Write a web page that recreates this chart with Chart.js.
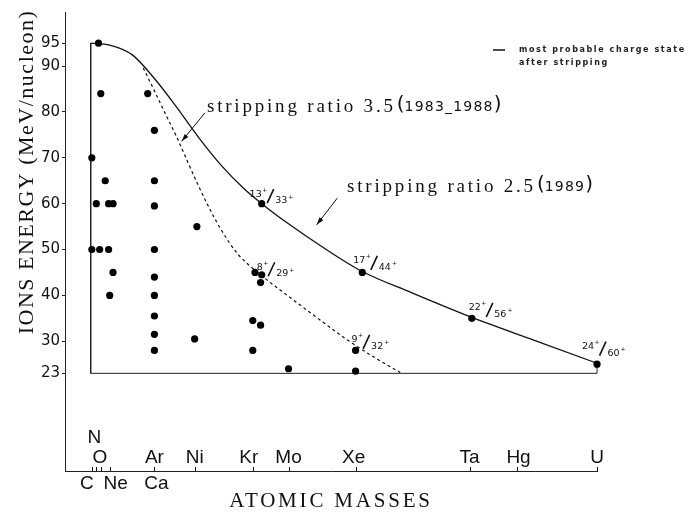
<!DOCTYPE html>
<html>
<head>
<meta charset="utf-8">
<script src="https://cdn.jsdelivr.net/npm/chart.js@4.4.1/dist/chart.umd.min.js"></script>
<style>
html,body{margin:0;padding:0;background:#fff}
</style>
</head>
<body>
<canvas id="chart" width="695" height="512"></canvas>
<script>

// beam energies (atomic mass, MeV/nucleon)
const ptMass=[15,16,37,40,12,18,14,19.5,21.5,40,40,59,12,15.5,19.5,40,21.5,20,40,40,40,40,40,58,88,85,88,87.5,84,87.5,84,100,133,130,130,182,238]
const ptEnergy=[95,84,84,76,70,65,60,60,60,65,59.5,55,50,50,50,50,45,40,44,40,35.5,31.5,28,30.5,60,45,44.5,42.8,34.5,33.5,28,24,45,28,23.5,35,25]

// stripping ratio 2.5 (solid) and 3.5 (dashed) curves
const solidMass=[11.5,20,30,40,50,60,70,80,88,100,115,133,155,182,210,238]
const solidEnergy=[95,94.6,92.5,87.3,81,74.3,68.3,63.3,60,55.6,50.6,45.2,40.6,35.2,30.2,25.2]
const dashMass=[35,40,45,50,55,60,65,70,77,88,100,112,126,140,150]
const dashEnergy=[89.6,84.6,79.5,74.5,69,63.6,58.6,54.2,49.2,44.3,39.8,35.4,30.4,26,23.2]

// inner frame
const frameMass=[11.5,11.5,238,238]
const frameEnergy=[95,23,23,25]

const yTicks=[23,30,40,50,60,70,80,90,95]
const elNames=['C','N','O','Ne','Ar','Ca','Ni','Kr','Mo','Xe','Ta','Hg','U']
const elMass=[12,14,16,20,40,40,58,84,100,130,181,202,238]

const chargeMass=[88,88,133,130,182,238]
const chargeEnergy=[60,44.5,45,28,35,25]
const chargeFrom=['13','8','17','9','22','24']
const chargeTo=['33','29','44','32','56','60']

// label placement (px)
const elRow=[2,0,1,2,1,2,1,1,1,1,1,1,1]
const elShift=[-5,-2,-1,6,0,2,0,-4,0,-2,0,2,0]
const chargeDx=[0,1,3,2,9,-3]
const chargeDy=[-7,-5,-9,-8,-8,-15]

const xy=(xs,ys)=>xs.map((v,i)=>({x:v,y:ys[i]}))

function arrow(ctx,x1,y1,x2,y2){
ctx.beginPath()
ctx.moveTo(x1,y1)
ctx.lineTo(x2,y2)
ctx.stroke()
const a=Math.atan2(y2-y1,x2-x1)
ctx.beginPath()
ctx.moveTo(x2,y2)
ctx.lineTo(x2-8*Math.cos(a-0.3),y2-8*Math.sin(a-0.3))
ctx.lineTo(x2-8*Math.cos(a+0.3),y2-8*Math.sin(a+0.3))
ctx.closePath()
ctx.fill()
}

function annot(ctx,px,py,main,years){
ctx.textAlign='left'
ctx.font='19px "Liberation Serif"'
ctx.letterSpacing='2.8px'
ctx.fillText(main,px,py)
let cx=px+ctx.measureText(main).width+1
ctx.letterSpacing='0px'
ctx.font='20px "DejaVu Sans"'
ctx.fillText('(',cx,py-2)
cx+=ctx.measureText('(').width
ctx.font='14px "DejaVu Sans"'
ctx.letterSpacing='1.2px'
ctx.fillText(years,cx,py-1)
cx+=ctx.measureText(years).width
ctx.letterSpacing='0px'
ctx.font='20px "DejaVu Sans"'
ctx.fillText(')',cx,py-2)
}

const decor={
id:'decor',
afterDraw(chart){
const {ctx,chartArea:ca,scales:{x,y}}=chart
ctx.save()
ctx.fillStyle='#111'
ctx.strokeStyle='#111'
ctx.lineWidth=1

// x tick marks, pointing up
ctx.beginPath()
new Set(elMass).forEach(m=>{
const px=Math.round(x.getPixelForValue(m))+0.5
ctx.moveTo(px,ca.bottom)
ctx.lineTo(px,ca.bottom-4)
})
ctx.stroke()

// element labels
ctx.font='19px "Liberation Sans"'
ctx.textAlign='center'
ctx.textBaseline='alphabetic'
const rowY=[ca.bottom-28,ca.bottom-8,ca.bottom+18]
elNames.forEach((n,i)=>{
ctx.fillText(n,x.getPixelForValue(elMass[i])+elShift[i],rowY[elRow[i]])
})

// axis titles
ctx.font='21px "Liberation Serif"'
ctx.letterSpacing='2.8px'
ctx.fillText('ATOMIC MASSES',(ca.left+ca.right)/2,ca.bottom+36)
ctx.save()
ctx.translate(33,172)
ctx.rotate(-Math.PI/2)
ctx.font='22px "Liberation Serif"'
ctx.letterSpacing='1.5px'
ctx.fillText('IONS ENERGY (MeV/nucleon)',0,0)
ctx.restore()
ctx.letterSpacing='0px'

// charge state labels
chargeMass.forEach((m,i)=>{
const ax=x.getPixelForValue(m)+chargeDx[i]
const ay=y.getPixelForValue(chargeEnergy[i])+chargeDy[i]
ctx.font='9.5px "DejaVu Sans"'
ctx.textAlign='right'
ctx.fillText(chargeFrom[i],ax,ay)
ctx.textAlign='left'
ctx.font='6px "DejaVu Sans"'
ctx.fillText('+',ax+0.5,ay-5)
ctx.lineWidth=1.6
ctx.beginPath()
ctx.moveTo(ax+5.5,ay+6.5)
ctx.lineTo(ax+12,ay-7.5)
ctx.stroke()
ctx.font='9.5px "DejaVu Sans"'
ctx.fillText(chargeTo[i],ax+13.5,ay+6.5)
const w=ctx.measureText(chargeTo[i]).width
ctx.font='6px "DejaVu Sans"'
ctx.fillText('+',ax+14.5+w,ay+2)
})

// stripping ratio notes
ctx.lineWidth=1
annot(ctx,x.getPixelForValue(63.5),y.getPixelForValue(80),'stripping ratio 3.5','1983_1988')
annot(ctx,x.getPixelForValue(126.2),y.getPixelForValue(62.5),'stripping ratio 2.5','1989')
arrow(ctx,x.getPixelForValue(62.6),y.getPixelForValue(79.8),x.getPixelForValue(52.2),y.getPixelForValue(73.6))
arrow(ctx,x.getPixelForValue(121.8),y.getPixelForValue(61.2),x.getPixelForValue(112.6),y.getPixelForValue(55.4))

// key
ctx.lineWidth=1.5
ctx.beginPath()
ctx.moveTo(ca.right-104,ca.top+38)
ctx.lineTo(ca.right-92,ca.top+38)
ctx.stroke()
ctx.font='bold 8px "DejaVu Sans"'
ctx.letterSpacing='1.6px'
ctx.textAlign='left'
ctx.fillStyle='#222'
ctx.fillText('most probable charge state',ca.right-78,ca.top+40)
ctx.fillText('after stripping',ca.right-78,ca.top+53)
ctx.restore()
}
}

new Chart(document.getElementById('chart'),{
type:'scatter',
data:{datasets:[
{data:xy(ptMass,ptEnergy),showLine:false,pointRadius:3.6,pointBackgroundColor:'#000',pointBorderWidth:0,clip:false},
{data:xy(solidMass,solidEnergy),showLine:true,borderColor:'#111',borderWidth:1.3,pointRadius:0,cubicInterpolationMode:'monotone',clip:false},
{data:xy(dashMass,dashEnergy),showLine:true,borderColor:'#111',borderWidth:1.2,borderDash:[3,3],pointRadius:0,cubicInterpolationMode:'monotone'},
{data:xy(frameMass,frameEnergy),showLine:true,borderColor:'#222',borderWidth:1,pointRadius:0,clip:false}
]},
options:{
responsive:false,
animation:false,
devicePixelRatio:1,
layout:{padding:{left:0,right:98,top:12,bottom:0}},
plugins:{legend:{display:false},tooltip:{enabled:false}},
scales:{
x:{type:'linear',min:0,max:238,
border:{display:true,color:'#222',width:1},
grid:{display:false},
ticks:{display:false},
afterFit(s){s.height=41}},
y:{type:'linear',min:1.7,max:101.8,
border:{color:'#222',width:1},
grid:{drawOnChartArea:false,tickLength:3,color:'#222'},
afterBuildTicks(s){s.ticks=yTicks.map(v=>({value:v}))},
ticks:{color:'#111',font:{family:'DejaVu Sans',size:15},padding:2,autoSkip:false},
afterFit(s){s.width=65}}
}
},
plugins:[decor]
})

</script>
</body>
</html>
